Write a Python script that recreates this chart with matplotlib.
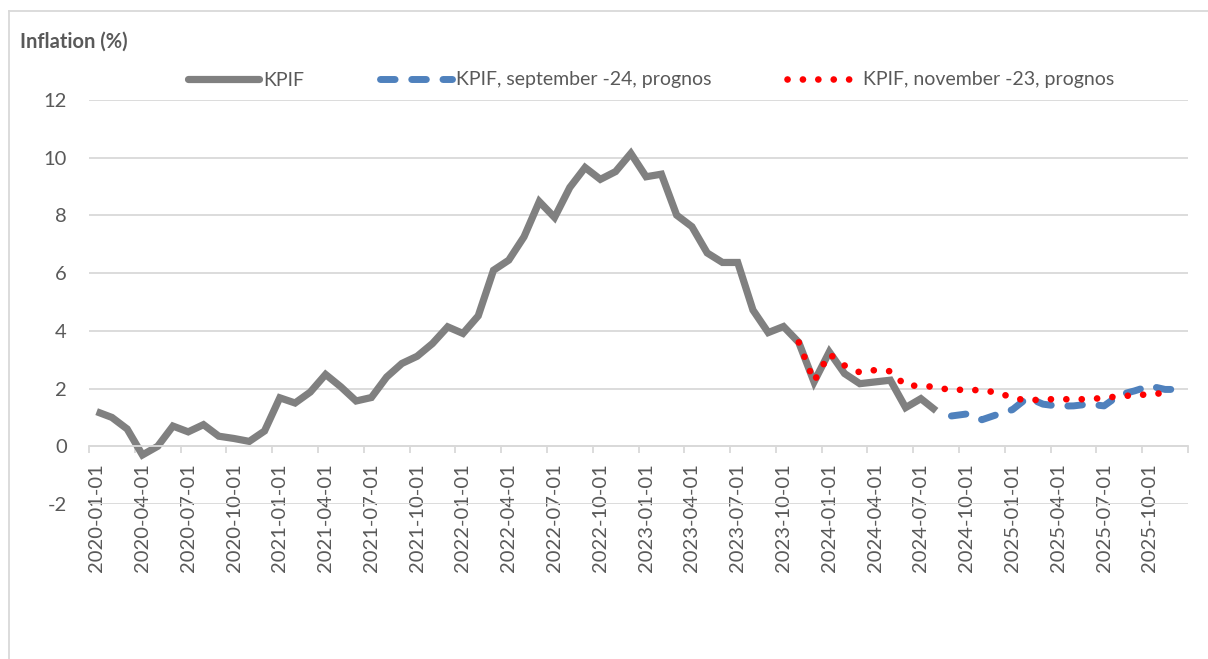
import matplotlib
matplotlib.use("Agg")
import matplotlib.pyplot as plt
from matplotlib.lines import Line2D
import numpy as np
import pandas as pd

# monthly category axis, 2020-01 .. 2025-12
months = pd.date_range("2020-01-01", "2025-12-01", freq="MS")
tick_labels = [d.strftime("%Y-%m-%d") for d in months[::3]]

# KPIF outcome, 2020-01 .. 2024-08
kpif = [1.2, 1.0, 0.6, -0.3, 0.0, 0.7, 0.5, 0.75, 0.35, 0.27, 0.17, 0.53,
        1.68, 1.5, 1.88, 2.49, 2.06, 1.57, 1.69, 2.4, 2.87, 3.12, 3.56, 4.14,
        3.91, 4.52, 6.1, 6.45, 7.26, 8.48, 7.93, 8.97, 9.66, 9.25, 9.52, 10.15,
        9.34, 9.43, 8.01, 7.61, 6.7, 6.37, 6.37, 4.72, 3.94, 4.15, 3.6, 2.23,
        3.27, 2.52, 2.17, 2.23, 2.29, 1.34, 1.65, 1.23]

# forecast september -24, from 2024-09
sep24_start = "2024-09-01"
sep24 = [1.05, 1.12, 0.92, 1.10, 1.27, 1.69, 1.46, 1.39, 1.40, 1.46, 1.40,
         1.78, 1.92, 2.09, 1.97, 1.97]

# forecast november -23, from 2023-11
nov23_start = "2023-11-01"
nov23 = [3.6, 2.25, 3.2, 2.8, 2.56, 2.64, 2.6, 2.1, 2.1, 2.05, 1.94, 1.97,
         1.93, 1.87, 1.68, 1.58, 1.63, 1.63, 1.63, 1.63, 1.68, 1.73, 1.77,
         1.80, 1.85]

names = ["KPIF", "KPIF, september -24, prognos", "KPIF, november -23, prognos"]

plt.rcParams['font.family'] = ['Lato', 'DejaVu Sans']
plt.rcParams['axes.unicode_minus'] = False
txt_col = '#595959'
grid_col = '#D9D9D9'
c_gray = '#808080'
c_blue = '#4F81BD'
c_red = '#FF0000'

W, H = 1208, 659
fig = plt.figure(figsize=(W / 100, H / 100), dpi=100)
ax = fig.add_axes([89 / W, 1 - 504 / H, (1188 - 89) / W, (504 - 100) / H])

x_kpif = np.arange(len(kpif))
i0 = months.get_loc(pd.Timestamp(sep24_start))
x_sep = np.arange(i0, i0 + len(sep24))
i1 = months.get_loc(pd.Timestamp(nov23_start))
x_nov = np.arange(i1, i1 + len(nov23))

ax.plot(x_kpif, kpif, color=c_gray, lw=5.2, solid_joinstyle='miter',
        solid_capstyle='butt', label=names[0])
ax.plot(x_sep, sep24, color=c_blue, lw=5.0, linestyle=(0, (2.1, 2.4)),
        dash_capstyle='round', label=names[1])
ax.plot(x_nov, nov23, color=c_red, lw=4.8, linestyle=(0, (0.01, 2.3)),
        dash_capstyle='round', label=names[2])

ax.set_xlim(-0.5, len(months) - 0.5)
ax.set_ylim(-2, 12)

ax.set_yticks(np.arange(-2, 13, 2))
ax.tick_params(axis='y', length=0, pad=16, labelsize=14.5, labelcolor=txt_col)
ax.yaxis.grid(True, color=grid_col, lw=1.3)
ax.set_axisbelow(True)

for s in ['top', 'right', 'left']:
    ax.spines[s].set_visible(False)
ax.spines['bottom'].set_position(('data', 0))
ax.spines['bottom'].set_color(grid_col)
ax.spines['bottom'].set_linewidth(1.3)

ax.set_xticks(np.arange(0, len(months), 3))
ax.set_xticklabels(tick_labels, rotation=90)
ax.set_xticks(np.arange(-0.5, len(months), 3), minor=True)
ax.tick_params(axis='x', which='major', length=0, pad=12, labelsize=14.5,
               labelcolor=txt_col)
ax.tick_params(axis='x', which='minor', length=5, width=1.3, color=grid_col,
               direction='out')

leg = fig.legend(loc='center', bbox_to_anchor=(651 / W, 1 - 80 / H), ncol=3,
                 frameon=False, fontsize=14, handlelength=3.7,
                 handletextpad=0.2, columnspacing=3.9, labelcolor=txt_col)
for h in leg.legend_handles:
    h.set_solid_capstyle('round')

fig.text(20 / W, 1 - 42 / H, "Inflation (%)", fontsize=14.5, fontweight='bold',
         color=txt_col, ha='left', va='center')

# outer chart frame
fig.add_artist(Line2D([9 / W, 1], [1 - 11 / H, 1 - 11 / H],
                      transform=fig.transFigure, color=grid_col, lw=1.3))
fig.add_artist(Line2D([9 / W, 9 / W], [1 - 11 / H, 0],
                      transform=fig.transFigure, color=grid_col, lw=1.3))

fig.savefig("out.png", dpi=100)
